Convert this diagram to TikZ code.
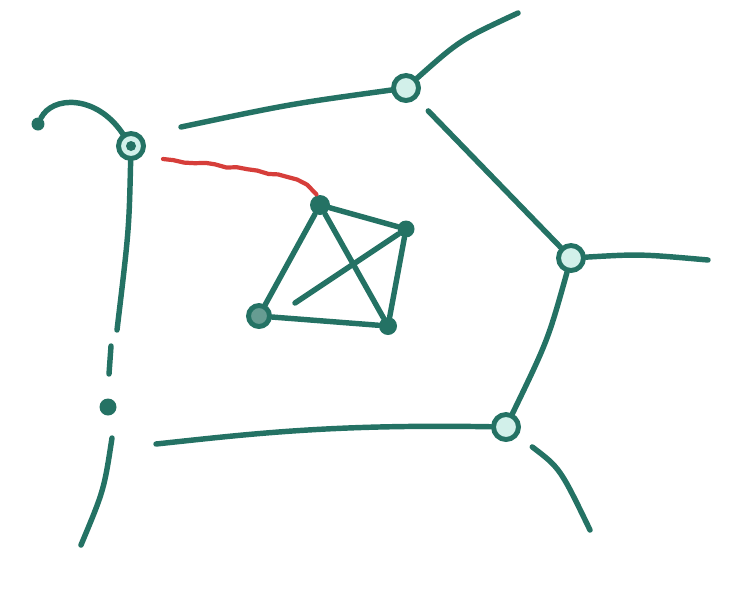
\documentclass[tikz,border=0pt]{standalone}
\usetikzlibrary{positioning, decorations.pathmorphing}
\definecolor{skteal}{RGB}{36,114,100}
\definecolor{sklight}{RGB}{210,240,234}
\definecolor{skred}{RGB}{214,62,58}

\begin{document}
\begin{tikzpicture}[x=0.02cm, y=-0.02cm,
    wire/.style={draw=skteal, line width=3.1pt, line cap=round},
    ring/.style={circle, draw=skteal, line width=2.8pt, fill=sklight,
                 minimum size=0.5cm, inner sep=0pt},
    knot/.style={circle, fill=skteal, minimum size=0.4cm, inner sep=0pt}]
  \useasboundingbox (0,0) rectangle (729,609);
  \pgfmathsetseed{7}
  % outer junctions
  \node[ring] (ja) at (131,146) {};
  \node[knot, minimum size=0.2cm] (jacore) at (ja) {};
  \node[ring] (jb) at (406,88) {};
  \node[ring] (jc) at (571,258) {};
  \node[ring] (jd) at (506,427) {};
  % free ends
  \coordinate (tl) at (38,124);
  \coordinate (ab) at (181,127);
  \coordinate (tr) at (518,13);
  \coordinate (cr) at (708,260);
  \coordinate (dl) at (156,444);
  \coordinate (dr) at (590,530);
  \coordinate (lv) at (117,330);
  \coordinate (ds1) at (111,346);
  \coordinate (ds2) at (109,374);
  \coordinate (lw1) at (112,438);
  \coordinate (lw2) at (81,545);
  \coordinate (rs) at (163,159);
  \coordinate (fe) at (295,303);
  \node[knot, minimum size=0.26cm] (tlend) at (tl) {};
  \node[knot, minimum size=0.34cm] (blob) at (108,407) {};
  % inner graph
  \node[knot] (ne) at (320,205) {};
  \node[knot, minimum size=0.34cm] (nf) at (406,229) {};
  \node[ring, minimum size=0.42cm, fill=skteal!70] (ng) at (259,316) {};
  \node[knot, minimum size=0.36cm] (nh) at (388,326) {};

  \draw[wire] (tlend) .. controls (52,96) and (96,94) .. (ja);
  \draw[wire] (ja) .. controls (129,230) .. (lv);
  \draw[wire] (ds1) -- (ds2);
  \draw[wire] (lw1) .. controls (104,490) .. (lw2);
  \draw[wire] (ab) .. controls (290,104) .. (jb);
  \draw[wire] (jb) .. controls (460,40) .. (tr);
  \draw[wire, shorten <=0.34cm] (jb) -- (jc);
  \draw[wire] (jc) .. controls (640,254) .. (cr);
  \draw[wire] (jc) .. controls (548,340) .. (jd);
  \draw[wire] (jd) .. controls (330,424) and (250,434) .. (dl);
  \draw[wire, shorten <=0.36cm] (jd) .. controls (560,468) .. (dr);

  \draw[wire] (ne) -- (nf);
  \draw[wire] (ne) -- (ng);
  \draw[wire] (ne) -- (nh);
  \draw[wire] (nf) -- (nh);
  \draw[wire] (ng) -- (nh);
  \draw[wire] (nf) -- (fe);

  \draw[draw=skred, line width=2.4pt, line cap=round, line join=round,
        decorate, decoration={random steps, amplitude=0.9pt, segment length=6pt}]
        (rs) .. controls (240,170) and (300,170) .. (ne);
\end{tikzpicture}
\end{document}
